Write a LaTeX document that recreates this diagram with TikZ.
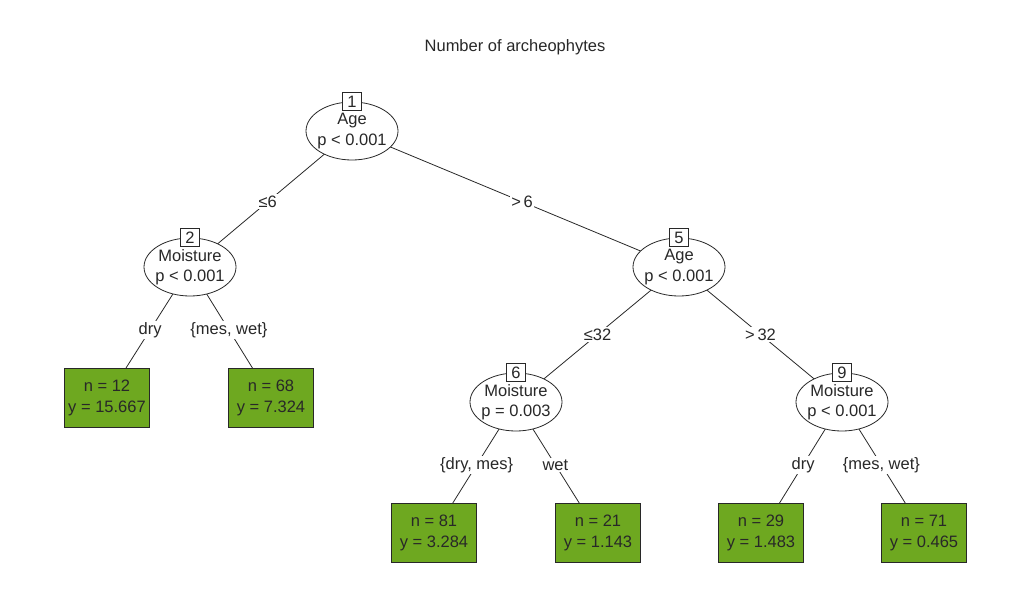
\documentclass[tikz,border=0pt]{standalone}
\usepackage{fontspec}
\setmainfont{Liberation Sans}
\usetikzlibrary{shapes.geometric,backgrounds}
\definecolor{leafgreen}{RGB}{110,168,32}
\definecolor{inkgray}{RGB}{40,40,40}
\begin{document}
\begin{tikzpicture}[x=1pt,y=-1pt,
  font=\fontsize{16.5}{20.5}\selectfont,
  every node/.style={text=inkgray},
  inner/.style={ellipse,draw=inkgray,line width=0.8pt,fill=white,minimum width=92pt,minimum height=58pt,inner xsep=-20pt,inner ysep=-10pt,align=center},
  idbox/.style={rectangle,draw=inkgray,line width=0.8pt,fill=white,minimum width=19pt,minimum height=18pt,inner sep=0pt},
  leafbox/.style={rectangle,draw=inkgray,line width=0.8pt,fill=leafgreen,minimum width=85pt,minimum height=59pt,inner sep=0pt,align=center},
  edge/.style={draw=inkgray,line width=0.8pt},
  elabel/.style={fill=white,inner sep=1.5pt}]
\useasboundingbox (0,0) rectangle (1015,612);
\node (title) at (515,47) {Number of archeophytes};
% inner nodes
\node[inner] (n1) at (352,131) {Age\\p < 0.001};
\node[inner] (n2) at (190,267) {Moisture\\p < 0.001};
\node[inner] (n5) at (679,267) {Age\\p < 0.001};
\node[inner] (n6) at (516,402) {Moisture\\p = 0.003};
\node[inner] (n9) at (842,402) {Moisture\\p < 0.001};
\node[idbox] (b1) at (n1.north) {1};
\node[idbox] (b2) at (n2.north) {2};
\node[idbox] (b5) at (n5.north) {5};
\node[idbox] (b6) at (n6.north) {6};
\node[idbox] (b9) at (n9.north) {9};
% leaves
\node[leafbox] (l3) at (107,398) {n = 12\\y = 15.667};
\node[leafbox] (l4) at (271,398) {n = 68\\y = 7.324};
\node[leafbox] (l7) at (434,533) {n = 81\\y = 3.284};
\node[leafbox] (l8) at (598,533) {n = 21\\y = 1.143};
\node[leafbox] (l10) at (761,533) {n = 29\\y = 1.483};
\node[leafbox] (l11) at (924,533) {n = 71\\y = 0.465};
% edges
\begin{scope}[on background layer]
\draw[edge] (n1.center) -- node[elabel,pos=0.52] {≤6} (n2.center);
\draw[edge] (n1.center) -- node[elabel,pos=0.52] {>\,6} (n5.center);
\draw[edge] (n2.center) -- node[elabel,pos=0.48] {dry} (l3.center);
\draw[edge] (n2.center) -- node[elabel,pos=0.48] {\{mes, wet\}} (l4.center);
\draw[edge] (n5.center) -- node[elabel,pos=0.5] {≤32} (n6.center);
\draw[edge] (n5.center) -- node[elabel,pos=0.5] {>\,32} (n9.center);
\draw[edge] (n6.center) -- node[elabel,pos=0.48] {\{dry, mes\}} (l7.center);
\draw[edge] (n6.center) -- node[elabel,pos=0.48] {wet} (l8.center);
\draw[edge] (n9.center) -- node[elabel,pos=0.48] {dry} (l10.center);
\draw[edge] (n9.center) -- node[elabel,pos=0.48] {\{mes, wet\}} (l11.center);
\end{scope}
\end{tikzpicture}
\end{document}
